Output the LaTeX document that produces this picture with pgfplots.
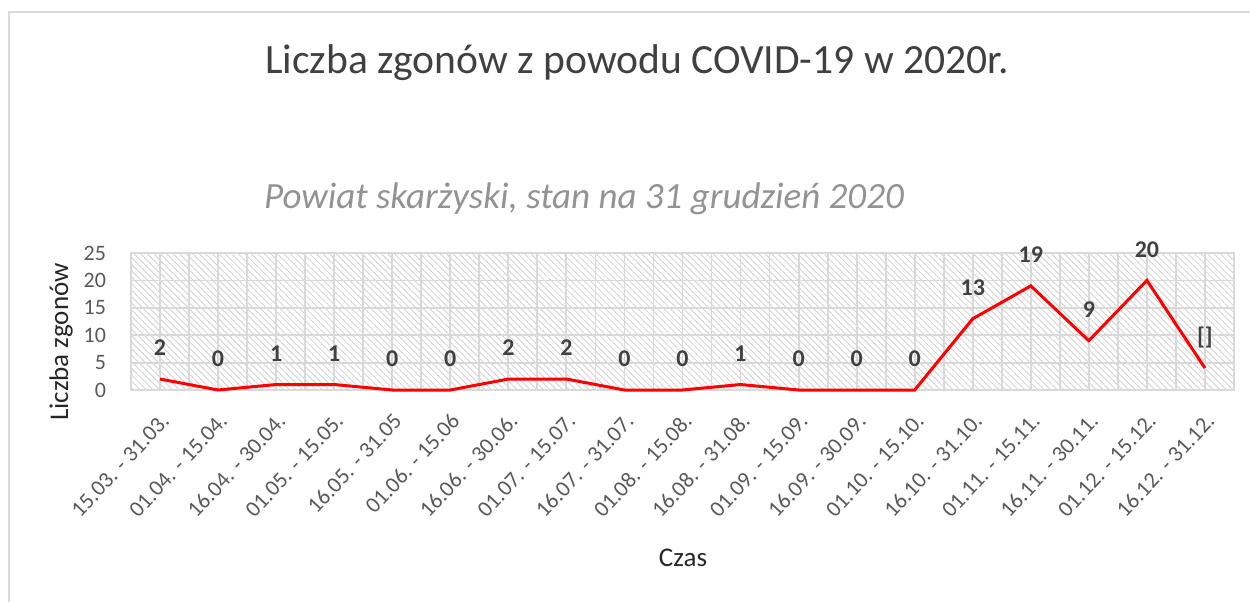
\documentclass[border=0pt]{standalone}
\usepackage{pgfplots}
\pgfplotsset{compat=1.18}
\usepackage{pgfplotstable}
\usetikzlibrary{patterns.meta}
\usepackage{fontspec}
\setmainfont{Carlito}
\definecolor{txt}{HTML}{595959}
\definecolor{dark}{HTML}{404040}
\definecolor{gridc}{HTML}{D9D9D9}
\pgfplotstableread{
x y lab
0 2 2
1 0 0
2 1 1
3 1 1
4 0 0
5 0 0
6 2 2
7 2 2
8 0 0
9 0 0
10 1 1
11 0 0
12 0 0
13 0 0
14 13 13
15 19 19
16 9 9
17 20 20
18 4 {[]}
}\deaths
\begin{document}
\begin{tikzpicture}[x=1pt,y=1pt]
\path[use as bounding box] (-65.5,-105.5) rectangle (559.5,195);
\draw[gridc, line width=1pt] (-61,-106) -- (-61,189) -- (560,189);
\begin{axis}[
  at={(0,0)}, anchor=south west,
  scale only axis, width=551.5pt, height=68.5pt,
  xmin=-0.5, xmax=18.5, ymin=0, ymax=25,
  xtick=data,
  xticklabels={15.03. - 31.03.,01.04. - 15.04.,16.04. - 30.04.,01.05. - 15.05.,16.05. - 31.05,01.06. - 15.06,16.06. - 30.06.,01.07. - 15.07.,16.07. - 31.07.,01.08. - 15.08.,16.08. - 31.08.,01.09. - 15.09.,16.09. - 30.09.,01.10. - 15.10.,16.10. - 31.10.,01.11. - 15.11.,16.11. - 30.11.,01.12. - 15.12.,16.12. - 31.12.},
  minor xtick={-0.5,0.5,...,18.5},
  ytick={0,5,...,25},
  grid=both,
  major grid style={gridc, line width=0.9pt},
  minor grid style={gridc, line width=0.9pt},
  tick style={draw=none},
  axis line style={gridc, line width=0.9pt},
  axis background/.style={pattern={Lines[angle=-45,distance=2.3pt,line width=0.5pt]}, pattern color=gray!32},
  xticklabel style={xshift=5pt, yshift=-11pt, rotate=47, anchor=east, font=\fontsize{11.2}{13}\selectfont, text=txt},
  yticklabel style={font=\fontsize{11}{13}\selectfont, text=txt, xshift=-9pt},
  /pgf/number format/assume math mode=true,
  clip=false,
]
\addplot[red, line width=1.5pt, mark=none,
  nodes near coords, point meta=explicit symbolic,
  every node near coord/.append style={font=\bfseries\fontsize{12}{14}\selectfont, text=dark, anchor=center, yshift=15.5pt}]
  table[x=x, y=y, meta=lab] {\deaths};
\end{axis}
\node[text=dark, font=\fontsize{20.8}{24}\selectfont] at (253,163.5) {Liczba zgonów z powodu COVID-19 w 2020r.};
\node[text=gray!85, font=\itshape\fontsize{18.5}{21}\selectfont] at (226.5,95.5) {Powiat skarżyski, stan na 31 grudzień 2020};
\node[text=black!85, font=\fontsize{13.5}{16}\selectfont, rotate=90] at (-35,24) {Liczba zgonów};
\node[text=black!85, font=\fontsize{13.5}{16}\selectfont] at (276,-84) {Czas};
\end{tikzpicture}
\end{document}
